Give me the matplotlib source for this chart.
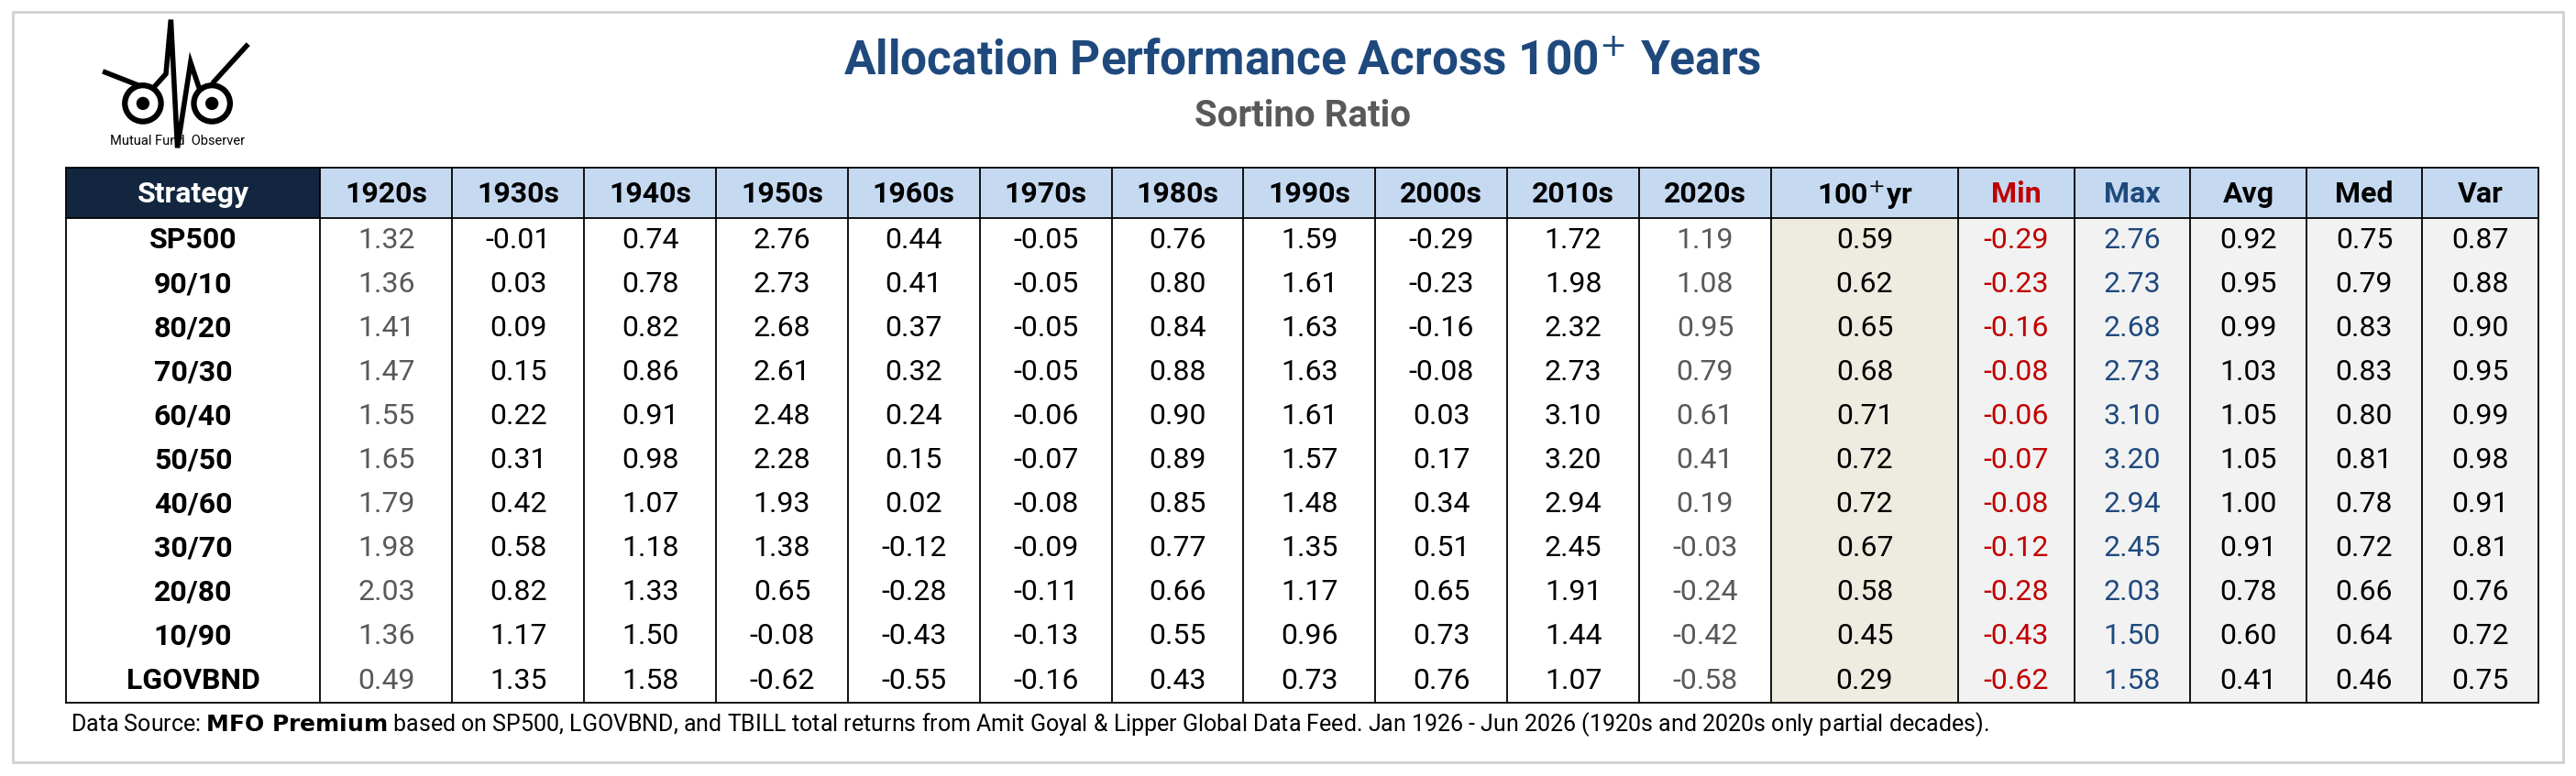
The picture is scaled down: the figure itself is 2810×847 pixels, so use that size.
import matplotlib.pyplot as plt
import matplotlib.patches as mpatches
from matplotlib import font_manager

strategies = ["SP500", "90/10", "80/20", "70/30", "60/40", "50/50", "40/60", "30/70", "20/80", "10/90", "LGOVBND"]
decades = ["1920s", "1930s", "1940s", "1950s", "1960s", "1970s", "1980s", "1990s", "2000s", "2010s", "2020s"]
stat_cols = ["Min", "Max", "Avg", "Med", "Var"]

decade_vals = [
    [1.32, -0.01, 0.74, 2.76, 0.44, -0.05, 0.76, 1.59, -0.29, 1.72, 1.19],
    [1.36, 0.03, 0.78, 2.73, 0.41, -0.05, 0.80, 1.61, -0.23, 1.98, 1.08],
    [1.41, 0.09, 0.82, 2.68, 0.37, -0.05, 0.84, 1.63, -0.16, 2.32, 0.95],
    [1.47, 0.15, 0.86, 2.61, 0.32, -0.05, 0.88, 1.63, -0.08, 2.73, 0.79],
    [1.55, 0.22, 0.91, 2.48, 0.24, -0.06, 0.90, 1.61, 0.03, 3.10, 0.61],
    [1.65, 0.31, 0.98, 2.28, 0.15, -0.07, 0.89, 1.57, 0.17, 3.20, 0.41],
    [1.79, 0.42, 1.07, 1.93, 0.02, -0.08, 0.85, 1.48, 0.34, 2.94, 0.19],
    [1.98, 0.58, 1.18, 1.38, -0.12, -0.09, 0.77, 1.35, 0.51, 2.45, -0.03],
    [2.03, 0.82, 1.33, 0.65, -0.28, -0.11, 0.66, 1.17, 0.65, 1.91, -0.24],
    [1.36, 1.17, 1.50, -0.08, -0.43, -0.13, 0.55, 0.96, 0.73, 1.44, -0.42],
    [0.49, 1.35, 1.58, -0.62, -0.55, -0.16, 0.43, 0.73, 0.76, 1.07, -0.58],
]
full_period = [0.59, 0.62, 0.65, 0.68, 0.71, 0.72, 0.72, 0.67, 0.58, 0.45, 0.29]
min_vals = [-0.29, -0.23, -0.16, -0.08, -0.06, -0.07, -0.08, -0.12, -0.28, -0.43, -0.62]
max_vals = [2.76, 2.73, 2.68, 2.73, 3.10, 3.20, 2.94, 2.45, 2.03, 1.50, 1.58]
avg_vals = [0.92, 0.95, 0.99, 1.03, 1.05, 1.05, 1.00, 0.91, 0.78, 0.60, 0.41]
med_vals = [0.75, 0.79, 0.83, 0.83, 0.80, 0.81, 0.78, 0.72, 0.66, 0.64, 0.46]
var_vals = [0.87, 0.88, 0.90, 0.95, 0.99, 0.98, 0.91, 0.81, 0.76, 0.72, 0.75]

names = {f.name for f in font_manager.fontManager.ttflist}
fam = "Liberation Sans Narrow" if "Liberation Sans Narrow" in names else "Roboto"
plt.rcParams['font.family'] = [fam, 'DejaVu Sans']

NAVY = "#12263F"
HEAD = "#C5D9F1"
BEIGE = "#EEECE1"
GRAYBG = "#F2F2F2"
RED = "#C00000"
BLUE = "#1F497D"
GRAYTXT = "#595959"

fig = plt.figure(figsize=(28.10, 8.47), dpi=100)
ax = fig.add_axes([0, 0, 1, 1])
W, H = 1568, 472.6
ax.set_xlim(0, W)
ax.set_ylim(H, 0)
ax.axis('off')

# outer frame
ax.add_patch(mpatches.Rectangle((8, 7), 1552, 457, fill=False, ec="#D0D0D0", lw=2))

# title
ax.text(793, 37, "Allocation Performance Across 100$^{+}$ Years", ha='center', va='center',
        fontsize=37, fontweight='bold', color=BLUE)
ax.text(793, 71, "Sortino Ratio", ha='center', va='center', fontsize=29, fontweight='bold', color=GRAYTXT)

# logo (rough)
ax.plot([64, 92, 101, 104, 108, 116, 124, 130, 150],
        [44, 55, 45, 12, 90, 38, 62, 50, 28], color='black', lw=4, solid_joinstyle='miter')
for cx in (87, 129):
    ax.add_patch(mpatches.Circle((cx, 63), 11, fc='white', ec='black', lw=4.5, zorder=3))
    ax.add_patch(mpatches.Circle((cx, 63), 4, fc='black', zorder=4))
ax.text(108, 86, "Mutual Fund  Observer", ha='center', va='center', fontsize=10.5, zorder=5)

# table geometry
x0 = 40
strat_w = 155
dec_w = (1078 - 195) / len(decades)
yr_w = 114
st_w = (1545 - 1078 - yr_w) / len(stat_cols)
top, head_h = 102, 31
row_h = (428 - top - head_h) / len(strategies)

col_edges = [x0, x0 + strat_w]
for _ in decades:
    col_edges.append(col_edges[-1] + dec_w)
col_edges.append(col_edges[-1] + yr_w)
for _ in stat_cols:
    col_edges.append(col_edges[-1] + st_w)
bottom = top + head_h + row_h * len(strategies)

# backgrounds
ax.add_patch(mpatches.Rectangle((x0, top), strat_w, head_h, fc=NAVY, ec='none'))
ax.add_patch(mpatches.Rectangle((x0 + strat_w, top), col_edges[-1] - x0 - strat_w, head_h, fc=HEAD, ec='none'))
ax.add_patch(mpatches.Rectangle((col_edges[12], top + head_h), yr_w, bottom - top - head_h, fc=BEIGE, ec='none'))
ax.add_patch(mpatches.Rectangle((col_edges[13], top + head_h), col_edges[-1] - col_edges[13], bottom - top - head_h,
                                fc=GRAYBG, ec='none'))

# lines
for xe in col_edges:
    ax.plot([xe, xe], [top, bottom], color='black', lw=1.3)
ax.plot([x0, col_edges[-1]], [top, top], color='black', lw=1.3)
ax.plot([x0, col_edges[-1]], [top + head_h, top + head_h], color='black', lw=1.3)
ax.plot([x0, col_edges[-1]], [bottom, bottom], color='black', lw=1.3)

# headers
headers = ["Strategy"] + decades + ["100$^{+}$yr"] + stat_cols
hcolors = ["white"] + ["black"] * 12 + [RED, BLUE, "black", "black", "black"]
for i, (h, c) in enumerate(zip(headers, hcolors)):
    xc = (col_edges[i] + col_edges[i + 1]) / 2
    ax.text(xc, top + head_h / 2 + 1, h, ha='center', va='center', fontsize=23, fontweight='bold', color=c)

# body
for r, s in enumerate(strategies):
    yc = top + head_h + row_h * (r + 0.5)
    ax.text(x0 + strat_w / 2, yc, s, ha='center', va='center', fontsize=23, fontweight='bold')
    row = decade_vals[r] + [full_period[r], min_vals[r], max_vals[r], avg_vals[r], med_vals[r], var_vals[r]]
    for j, v in enumerate(row):
        xc = (col_edges[j + 1] + col_edges[j + 2]) / 2
        if j in (0, 10):
            c = GRAYTXT
        elif j == 12:
            c = RED
        elif j == 13:
            c = BLUE
        else:
            c = "black"
        ax.text(xc, yc, f"{v:.2f}", ha='center', va='center', fontsize=23, color=c)

# footnote
ax.text(43, 441, "Data Source: $\\mathbf{MFO\\ Premium}$ based on SP500, LGOVBND, and TBILL total returns from "
        "Amit Goyal & Lipper Global Data Feed. Jan 1926 - Jun 2026 (1920s and 2020s only partial decades).",
        ha='left', va='center', fontsize=18)

fig.savefig("out.png", dpi=100)
